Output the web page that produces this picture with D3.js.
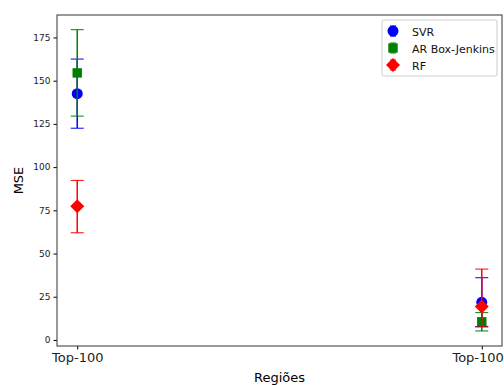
<!DOCTYPE html>
<html>
<head>
<meta charset="utf-8">
<script src="https://cdn.jsdelivr.net/npm/d3@7"></script>
<style>
body { margin: 0; background: #fff; }
text { font-family: "DejaVu Sans", sans-serif; }
</style>
</head>
<body>
<div id="chart"></div>
<script>
// categories and series
var regions = ["Top-100", "Top-1000"];
var models = ["SVR", "AR Box-Jenkins", "RF"];
var colors = ["#0000ff", "#008000", "#ff0000"];
var shapes = ["circle", "square", "diamond"];

// mean MSE per model, per region
var svrMean = [142.5, 21.8];
var arMean = [154.5, 10.5];
var rfMean = [77.3, 19.3];
// error bar ends
var svrLow = [122.5, 7.8], svrHigh = [162.5, 36];
var arLow = [129.5, 5.2], arHigh = [179.5, 15.8];
var rfLow = [62, 7.5], rfHigh = [92.3, 41];

var yTicks = [0, 25, 50, 75, 100, 125, 150, 175];

var series = [
  { name: models[0], mean: svrMean, low: svrLow, high: svrHigh },
  { name: models[1], mean: arMean, low: arLow, high: arHigh },
  { name: models[2], mean: rfMean, low: rfLow, high: rfHigh }
];

var W = 504, H = 385;
var margin = { top: 15, right: 2, bottom: 39, left: 57 };
var width = W - margin.left - margin.right,
    height = H - margin.top - margin.bottom;

var svg = d3.select("#chart").append("svg")
  .attr("width", W).attr("height", H);
var g = svg.append("g")
  .attr("transform", "translate(" + margin.left + "," + margin.top + ")");

var x = d3.scaleLinear().domain([-0.05, 1.05]).range([0, width]);
var y = d3.scaleLinear().domain([-3.5, 188]).range([height, 0]);

// y axis
var yAxis = g.append("g")
  .call(d3.axisLeft(y).tickValues(yTicks).tickSize(3.5).tickPadding(3));
yAxis.selectAll("text").style("font-size", "9px").attr("fill", "#222");
yAxis.select(".domain").remove();

// x axis
var xAxis = g.append("g")
  .attr("transform", "translate(0," + height + ")")
  .call(d3.axisBottom(x).tickValues([0, 1]).tickFormat(function(d) { return regions[d]; })
    .tickSize(3.5).tickPadding(3));
xAxis.selectAll("text").style("font-size", "13px").attr("fill", "#222");
xAxis.select(".domain").remove();

// frame
g.append("rect")
  .attr("width", width).attr("height", height)
  .attr("fill", "none").attr("stroke", "#333").attr("stroke-width", 1);

function marker(sel, shape, color, s) {
  if (shape === "circle") {
    sel.append("circle").attr("r", s * 0.55).attr("fill", color);
  } else if (shape === "square") {
    sel.append("rect").attr("x", -s * 0.47).attr("y", -s * 0.47)
      .attr("width", s * 0.94).attr("height", s * 0.94).attr("fill", color);
  } else {
    sel.append("path")
      .attr("d", "M0," + (-s * 0.7) + "L" + (s * 0.7) + ",0L0," + (s * 0.7) + "L" + (-s * 0.7) + ",0Z")
      .attr("fill", color);
  }
}

// error bars and markers
series.forEach(function(sr, i) {
  var grp = g.append("g");
  regions.forEach(function(r, j) {
    var cx = x(j);
    grp.append("line")
      .attr("x1", cx).attr("x2", cx)
      .attr("y1", y(sr.low[j])).attr("y2", y(sr.high[j]))
      .attr("stroke", colors[i]).attr("stroke-width", 1.5);
    [sr.low[j], sr.high[j]].forEach(function(v) {
      grp.append("line")
        .attr("x1", cx - 6.5).attr("x2", cx + 6.5)
        .attr("y1", y(v)).attr("y2", y(v))
        .attr("stroke", colors[i]).attr("stroke-width", 1);
    });
    var m = grp.append("g").attr("transform", "translate(" + cx + "," + y(sr.mean[j]) + ")");
    marker(m, shapes[i], colors[i], 10);
  });
});

// axis labels
svg.append("text")
  .attr("x", margin.left + width / 2).attr("y", 382)
  .attr("text-anchor", "middle").style("font-size", "13px")
  .text("Regiões");
svg.append("text")
  .attr("transform", "translate(23," + (margin.top + height / 2) + ") rotate(-90)")
  .attr("text-anchor", "middle").style("font-size", "13px")
  .text("MSE");

// legend
var lg = svg.append("g").attr("transform", "translate(382,20)");
lg.append("rect")
  .attr("width", 115).attr("height", 56).attr("rx", 2)
  .attr("fill", "#fff").attr("fill-opacity", 0.8)
  .attr("stroke", "#ccc").attr("stroke-width", 1);
series.forEach(function(sr, i) {
  var row = lg.append("g").attr("transform", "translate(11," + (11 + i * 17) + ")");
  row.append("line").attr("y1", -5).attr("y2", 5)
    .attr("stroke", colors[i]).attr("stroke-width", 1.5);
  [-5, 5].forEach(function(v) {
    row.append("line").attr("x1", -3).attr("x2", 3).attr("y1", v).attr("y2", v)
      .attr("stroke", colors[i]).attr("stroke-width", 1);
  });
  marker(row, shapes[i], colors[i], 10);
  row.append("text")
    .attr("x", 19).attr("y", 4.5)
    .style("font-size", "11px").attr("fill", "#111")
    .text(sr.name);
});
</script>
</body>
</html>
